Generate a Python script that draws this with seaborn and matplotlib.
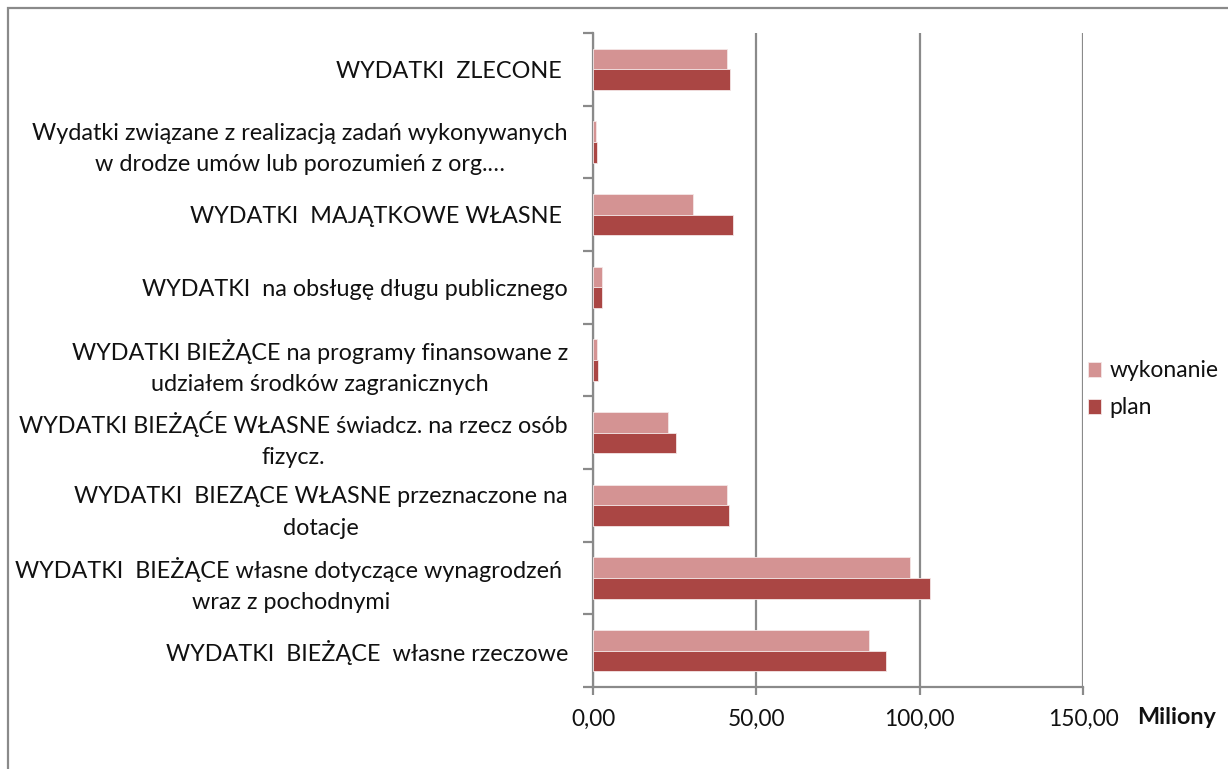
import pandas as pd
import seaborn as sns
import numpy as np
import matplotlib.pyplot as plt
from matplotlib.ticker import FixedLocator, FuncFormatter
from matplotlib.patches import Rectangle

categories = [
    'WYDATKI  ZLECONE ',
    'Wydatki związane z realizacją zadań wykonywanych\nw drodze umów lub porozumień z org.…',
    'WYDATKI  MAJĄTKOWE WŁASNE ',
    'WYDATKI  na obsługę długu publicznego',
    'WYDATKI BIEŻĄCE na programy finansowane z\nudziałem środków zagranicznych',
    'WYDATKI BIEŻĄĆE WŁASNE świadcz. na rzecz osób\nfizycz.',
    'WYDATKI  BIEZĄCE WŁASNE przeznaczone na\ndotacje',
    'WYDATKI  BIEŻĄCE własne dotyczące wynagrodzeń \nwraz z pochodnymi',
    'WYDATKI  BIEŻĄCE  własne rzeczowe',
]
wykonanie = [41.0, 0.8, 30.7, 2.8, 1.2, 23.0, 40.9, 97.0, 84.4]
plan = [41.9, 1.3, 42.8, 2.8, 1.6, 25.3, 41.7, 103.1, 89.6]
series = ['wykonanie', 'plan']
colors = ['#D49393', '#AA4644']
xticks = [0, 50, 100, 150]

df = pd.DataFrame({'kategoria': categories * 2,
                   'seria': ['wykonanie'] * len(categories) + ['plan'] * len(categories),
                   'wartosc': wykonanie + plan})

sns.set_style('white')
plt.rcParams['font.family'] = ['Lato', 'DejaVu Sans']

fig = plt.figure(figsize=(12.28, 7.69), dpi=100)
ax = fig.add_axes([593 / 1228, 1 - 687 / 769, 490 / 1228, 654 / 769])

sns.barplot(data=df, y='kategoria', x='wartosc', hue='seria', order=categories,
            hue_order=series, palette=colors, saturation=1, width=0.57, orient='h',
            edgecolor='#f4e6e6', linewidth=0.6, ax=ax, zorder=3)

grey = '#8a8a8a'
txt = '#111111'
ax.set_xlim(0, 150)
ax.set_ylim(len(categories) - 0.5, -0.5)
ax.set_xticks(xticks)
ax.xaxis.set_major_formatter(FuncFormatter(lambda v, p: f'{v:.2f}'.replace('.', ',')))
ax.grid(axis='x', color=grey, linewidth=1.6, zorder=0)
ax.grid(axis='y', visible=False)
for s in ['top', 'right']:
    ax.spines[s].set_visible(False)
for s in ['left', 'bottom']:
    ax.spines[s].set_color(grey)
    ax.spines[s].set_linewidth(1.6)

ax.yaxis.set_minor_locator(FixedLocator(np.arange(-0.5, len(categories), 1)))
ax.tick_params(axis='y', which='major', length=0, pad=18, labelsize=16.8, labelcolor=txt)
ax.tick_params(axis='y', which='minor', left=True, length=7, width=1.6, color=grey, direction='out')
ax.tick_params(axis='x', bottom=True, length=6, width=1.6, color=grey, direction='out',
               labelsize=16.3, pad=10, labelcolor=txt)
for lab in ax.get_yticklabels():
    lab.set_multialignment('center')
    lab.set_linespacing(1.6)
ax.set_xlabel('')
ax.set_ylabel('')

leg = ax.legend(loc='center left', bbox_to_anchor=(1.0, 0.455), frameon=False, fontsize=16.5,
                handlelength=0.6, handleheight=0.6, handletextpad=0.35, labelspacing=0.7,
                borderaxespad=0.0, borderpad=0.2)
for t in leg.get_texts():
    t.set_color(txt)

fig.text(1137 / 1228, 1 - 717 / 769, 'Miliony', fontsize=16.8, fontweight='bold',
         va='center', ha='left', color=txt)

fig.patches.append(Rectangle((8 / 1228, -0.1), 1.2, 1 - 8 / 769 + 0.1, transform=fig.transFigure,
                             fill=False, edgecolor=grey, linewidth=1.6))

fig.savefig('out.png', dpi=100)
